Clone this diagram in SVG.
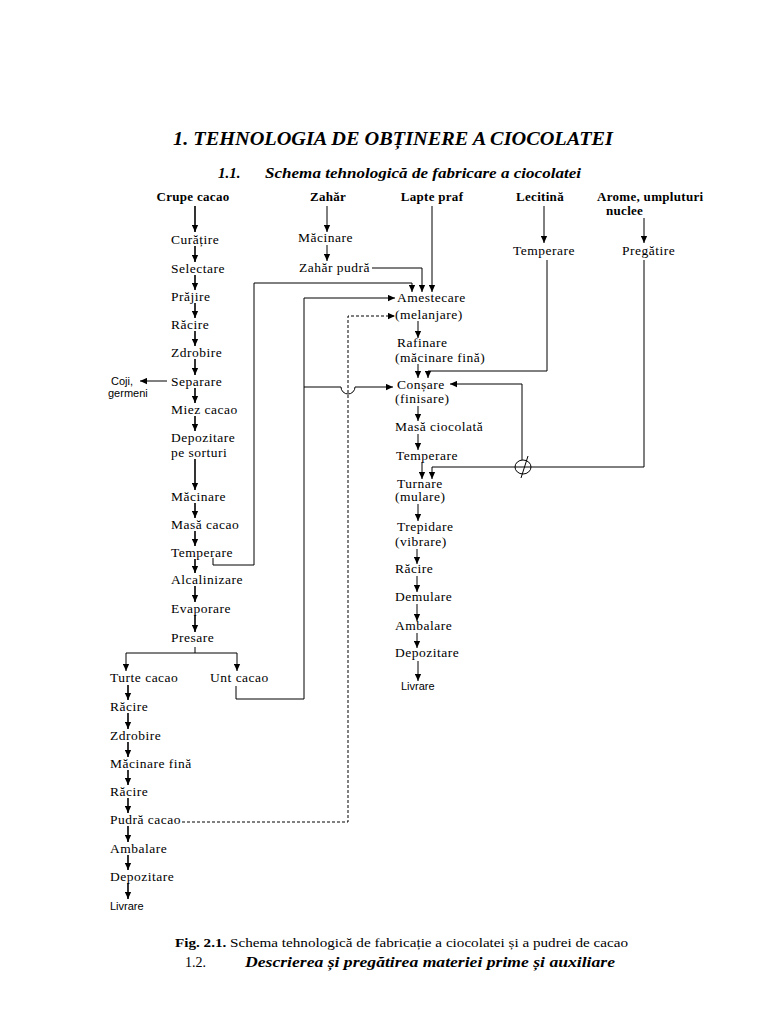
<svg xmlns="http://www.w3.org/2000/svg" width="768" height="1024" viewBox="0 0 768 1024">
<style>
.t{font-size:13.5px;letter-spacing:0.5px;fill:#000}
.h{font-weight:bold;font-size:13px;letter-spacing:0.3px;fill:#000}
.s{font-size:11px;fill:#000}
.ti{font-weight:bold;font-style:italic;fill:#000}
.c{stroke:#000;fill:none;stroke-width:1}
.cb{stroke:#000;fill:none;stroke-width:1.6}
.d{stroke:#000;fill:none;stroke-width:1;stroke-dasharray:3,2}
</style>
<defs>
<marker id="ah" viewBox="0 0 10 10" refX="10" refY="5" markerWidth="7" markerHeight="7" markerUnits="userSpaceOnUse" orient="auto"><path d="M0,0.5 L10,5 L0,9.5 z" fill="#000"/></marker>
</defs>
<rect width="768" height="1024" fill="#fff"/>

<g id="titles" font-family="Liberation Serif, serif">
<text class="ti" x="173" y="145" font-size="19" textLength="440" lengthAdjust="spacingAndGlyphs">1. TEHNOLOGIA DE OBȚINERE A CIOCOLATEI</text>
<text class="ti" x="218" y="178" font-size="15">1.1.</text>
<text class="ti" x="265" y="178" font-size="15" textLength="316" lengthAdjust="spacingAndGlyphs">Schema tehnologică de fabricare a ciocolatei</text>
</g>

<g id="headers" font-family="Liberation Serif, serif">
<g id="n-crupe"><text class="h" x="193" y="201" text-anchor="middle">Crupe cacao</text></g>
<g id="n-zahar"><text class="h" x="328" y="201" text-anchor="middle">Zahăr</text></g>
<g id="n-lapte"><text class="h" x="432" y="201" text-anchor="middle">Lapte praf</text></g>
<g id="n-lecitina"><text class="h" x="540" y="201" text-anchor="middle">Lecitină</text></g>
<g id="n-arome"><text class="h" x="597" y="201">Arome, umpluturi</text><text class="h" x="606" y="215">nuclee</text></g>
</g>

<g id="left-column" font-family="Liberation Serif, serif">
<g id="n-curatire"><text class="t" x="171" y="244">Curățire</text></g>
<g id="n-selectare"><text class="t" x="171" y="273">Selectare</text></g>
<g id="n-prajire"><text class="t" x="171" y="301">Prăjire</text></g>
<g id="n-racire1"><text class="t" x="171" y="329">Răcire</text></g>
<g id="n-zdrobire1"><text class="t" x="171" y="357">Zdrobire</text></g>
<g id="n-separare"><text class="t" x="171" y="386">Separare</text></g>
<g id="n-coji" font-family="Liberation Sans, sans-serif"><text class="s" x="111" y="385">Coji,</text><text class="s" x="108" y="397">germeni</text></g>
<g id="n-miez"><text class="t" x="171" y="414">Miez cacao</text></g>
<g id="n-depozitare1"><text class="t" x="171" y="442">Depozitare</text><text class="t" x="171" y="457">pe sorturi</text></g>
<g id="n-macinare1"><text class="t" x="171" y="501">Măcinare</text></g>
<g id="n-masa"><text class="t" x="171" y="529">Masă cacao</text></g>
<g id="n-temperare1"><text class="t" x="171" y="557">Temperare</text></g>
<g id="n-alcalinizare"><text class="t" x="171" y="584">Alcalinizare</text></g>
<g id="n-evaporare"><text class="t" x="171" y="613">Evaporare</text></g>
<g id="n-presare"><text class="t" x="171" y="642">Presare</text></g>
<g id="n-turte"><text class="t" x="110" y="682">Turte cacao</text></g>
<g id="n-unt"><text class="t" x="210" y="682">Unt cacao</text></g>
<g id="n-racire2"><text class="t" x="110" y="711">Răcire</text></g>
<g id="n-zdrobire2"><text class="t" x="110" y="740">Zdrobire</text></g>
<g id="n-macfina"><text class="t" x="110" y="768">Măcinare fină</text></g>
<g id="n-racire3"><text class="t" x="110" y="796">Răcire</text></g>
<g id="n-pudra"><text class="t" x="110" y="824" letter-spacing="0.2">Pudră cacao</text></g>
<g id="n-ambalare1"><text class="t" x="110" y="853">Ambalare</text></g>
<g id="n-depozitare2"><text class="t" x="110" y="881">Depozitare</text></g>
<g id="n-livrare1" font-family="Liberation Sans, sans-serif"><text class="s" x="110" y="910">Livrare</text></g>
</g>

<g id="zahar-column" font-family="Liberation Serif, serif">
<g id="n-macinare2"><text class="t" x="298" y="242">Măcinare</text></g>
<g id="n-zaharpudra"><text class="t" x="299" y="272" letter-spacing="0.2">Zahăr pudră</text></g>
</g>

<g id="aux-column" font-family="Liberation Serif, serif">
<g id="n-temperare-lec"><text class="t" x="513" y="255">Temperare</text></g>
<g id="n-pregatire"><text class="t" x="622" y="255">Pregătire</text></g>
</g>

<g id="right-column" font-family="Liberation Serif, serif">
<g id="n-amestecare"><text class="t" x="397" y="302">Amestecare</text><text class="t" x="395" y="319">(melanjare)</text></g>
<g id="n-rafinare"><text class="t" x="397" y="347">Rafinare</text><text class="t" x="395" y="362">(măcinare fină)</text></g>
<g id="n-consare"><text class="t" x="397" y="389">Conșare</text><text class="t" x="395" y="403">(finisare)</text></g>
<g id="n-masaciocolata"><text class="t" x="395" y="431">Masă ciocolată</text></g>
<g id="n-temperare2"><text class="t" x="396" y="460">Temperare</text></g>
<g id="n-turnare"><text class="t" x="397" y="488">Turnare</text><text class="t" x="395" y="501">(mulare)</text></g>
<g id="n-trepidare"><text class="t" x="397" y="531">Trepidare</text><text class="t" x="395" y="546">(vibrare)</text></g>
<g id="n-racire4"><text class="t" x="395" y="573">Răcire</text></g>
<g id="n-demulare"><text class="t" x="395" y="601">Demulare</text></g>
<g id="n-ambalare2"><text class="t" x="395" y="630">Ambalare</text></g>
<g id="n-depozitare3"><text class="t" x="395" y="657">Depozitare</text></g>
<g id="n-livrare2" font-family="Liberation Sans, sans-serif"><text class="s" x="401" y="690">Livrare</text></g>
</g>

<g id="connectors">
<g class="cb" marker-end="url(#ah)">
<path d="M195,206V232"/>
<path d="M195,246V262"/>
<path d="M195,275V290"/>
<path d="M195,303V318"/>
<path d="M195,331V346"/>
<path d="M195,359V375"/>
<path d="M195,388V403"/>
<path d="M195,416V431"/>
<path d="M195,459V490"/>
<path d="M195,503V518"/>
<path d="M195,531V546"/>
<path d="M195,559V573"/>
<path d="M195,586V602"/>
<path d="M195,615V632"/>
<path d="M128,685V700"/>
<path d="M128,713V729"/>
<path d="M128,742V757"/>
<path d="M128,770V785"/>
<path d="M128,798V813"/>
<path d="M128,826V842"/>
<path d="M128,855V870"/>
<path d="M128,883V899"/>
</g>
<path class="c" d="M167,381H140" marker-end="url(#ah)"/>
<path class="c" d="M195,647V653"/>
<path class="c" d="M126,653H237"/>
<path class="c" d="M126,653V671" marker-end="url(#ah)"/>
<path class="c" d="M237,653V671" marker-end="url(#ah)"/>
<path class="c" d="M327,206V232" marker-end="url(#ah)"/>
<path class="c" d="M327,245V261" marker-end="url(#ah)"/>
<path class="c" d="M213,558V565H254V283H412V292" marker-end="url(#ah)"/>
<path class="c" d="M372,268H422V292" marker-end="url(#ah)"/>
<path class="c" d="M432,206V292" marker-end="url(#ah)"/>
<path class="c" d="M236,686V699H304V298H395" marker-end="url(#ah)"/>
<path class="c" d="M304,387H341A7,7 0 0 0 355,387H393" marker-end="url(#ah)"/>
<path class="d" d="M182,822H348V316H395" marker-end="url(#ah)"/>
<path class="c" d="M544,206V243" marker-end="url(#ah)"/>
<path class="c" d="M547,260V371H428V378" marker-end="url(#ah)"/>
<path class="c" d="M644,218V243" marker-end="url(#ah)"/>
<path class="c" d="M644,260V467H432V479" marker-end="url(#ah)"/>
<path class="c" d="M522,460V384H450" marker-end="url(#ah)"/>
<ellipse class="c" cx="523" cy="467" rx="8" ry="7" stroke-width="1.3"/>
<path class="c" d="M528,456L521,478" stroke-width="1.2"/>
<g class="c" marker-end="url(#ah)">
<path d="M418,321V338"/>
<path d="M418,364V378"/>
<path d="M418,406V421"/>
<path d="M418,434V450"/>
<path d="M422,462V479"/>
<path d="M418,504V521"/>
<path d="M417,549V564"/>
<path d="M417,576V592"/>
<path d="M417,604V621"/>
<path d="M417,633V648"/>
<path d="M418,661V681"/>
</g>
</g>

<g id="caption" font-family="Liberation Serif, serif">
<text x="175" y="947" font-size="13.5" textLength="453" lengthAdjust="spacingAndGlyphs"><tspan font-weight="bold">Fig. 2.1.</tspan> Schema tehnologică de fabricație a ciocolatei și a pudrei de cacao</text>
<text x="185" y="967" font-size="14">1.2.</text>
<text class="ti" x="245" y="967" font-size="15" textLength="370" lengthAdjust="spacingAndGlyphs">Descrierea și pregătirea materiei prime și auxiliare</text>
</g>
</svg>
